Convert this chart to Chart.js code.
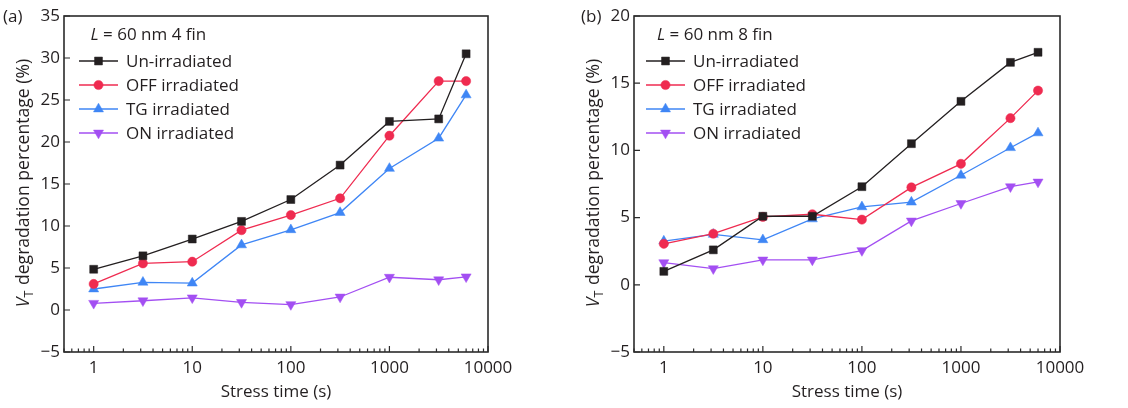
<!DOCTYPE html>
<html>
<head>
<meta charset="utf-8">
<script src="https://cdn.jsdelivr.net/npm/chart.js@4.4.1/dist/chart.umd.min.js"></script>
<style>
  html, body { margin: 0; padding: 0; background: #fff; }
  #wrap { position: relative; width: 1128px; height: 408px; }
  #wrap canvas { position: absolute; top: 0; }
</style>
</head>
<body>
<div id="wrap">
  <canvas id="chartA" width="564" height="408" style="left:0"></canvas>
  <canvas id="chartB" width="564" height="408" style="left:564px"></canvas>
</div>
<script>
// Stress times (s) shared by both devices
const stressTimes = [1, 3.16, 10, 31.6, 100, 316, 1000, 3160, 6000];
const seriesNames = ['Un-irradiated', 'OFF irradiated', 'TG irradiated', 'ON irradiated'];

// (a) L = 60 nm, 4 fin: VT degradation (%)
const fin4Un  = [4.85, 6.45, 8.45, 10.55, 13.15, 17.25, 22.45, 22.75, 30.5];
const fin4Off = [3.1, 5.55, 5.75, 9.5, 11.3, 13.3, 20.75, 27.25, 27.25];
const fin4Tg  = [2.5, 3.3, 3.2, 7.75, 9.55, 11.6, 16.85, 20.45, 25.6];
const fin4On  = [0.8, 1.1, 1.45, 0.9, 0.65, 1.55, 3.9, 3.6, 3.95];

// (b) L = 60 nm, 8 fin: VT degradation (%)
const fin8Un  = [1.0, 2.6, 5.1, 5.1, 7.3, 10.5, 13.65, 16.55, 17.3];
const fin8Off = [3.05, 3.8, 5.05, 5.25, 4.85, 7.25, 9.0, 12.4, 14.45];
const fin8Tg  = [3.25, 3.75, 3.35, 4.9, 5.8, 6.15, 8.15, 10.2, 11.3];
const fin8On  = [1.65, 1.2, 1.85, 1.85, 2.55, 4.75, 6.05, 7.3, 7.65];

// Axis ticks
const xMajorTicks = [1, 10, 100, 1000, 10000];
const xMinorTicks = [0.5, 0.6, 0.7, 0.8, 0.9,
  2, 3, 4, 5, 6, 7, 8, 9, 20, 30, 40, 50, 60, 70, 80, 90,
  200, 300, 400, 500, 600, 700, 800, 900, 2000, 3000, 4000, 5000, 6000, 7000, 8000, 9000];
const yTicksA = [-5, 0, 5, 10, 15, 20, 25, 30, 35];
const yTicksB = [-5, 0, 5, 10, 15, 20];

const FONT = '"Open Sans", "Noto Sans", sans-serif';
const INK = '#231f20';
const styles = [
  { color: '#231f20', pointStyle: 'rect', radius: 5.6, rotation: 0 },
  { color: '#ef2b50', pointStyle: 'circle', radius: 4.6, rotation: 0 },
  { color: '#3f86f5', pointStyle: 'triangle', radius: 5.8, rotation: 0 },
  { color: '#a34ff2', pointStyle: 'triangle', radius: 5.8, rotation: 180 }
];

function makeDatasets(seriesList) {
  return seriesList.map((vals, i) => ({
    label: seriesNames[i],
    data: stressTimes.map((t, k) => ({ x: t, y: vals[k] })),
    borderColor: styles[i].color,
    backgroundColor: styles[i].color,
    borderWidth: 1.3,
    pointStyle: styles[i].pointStyle,
    pointRadius: styles[i].radius,
    pointRotation: styles[i].rotation,
    pointBorderWidth: 0.5,
    pointBackgroundColor: styles[i].color,
    pointBorderColor: styles[i].color,
    tension: 0
  }));
}

function drawMarker(ctx, st, x, y) {
  ctx.save();
  ctx.fillStyle = st.color;
  ctx.strokeStyle = st.color;
  ctx.lineWidth = 0.5;
  if (Chart.helpers && Chart.helpers.drawPoint) {
    Chart.helpers.drawPoint(ctx, { pointStyle: st.pointStyle, radius: st.radius, rotation: st.rotation, borderWidth: 0.5 }, x, y);
  }
  ctx.restore();
}

// Frame, inward ticks, legend, annotation, panel tag and y title
const decorations = {
  id: 'decorations',
  afterDraw(chart, args, opts) {
    const ctx = chart.ctx;
    const area = chart.chartArea;
    const xs = chart.scales.x, ys = chart.scales.y;
    ctx.save();
    ctx.strokeStyle = '#2b2b2b';
    ctx.lineWidth = 1.6;
    ctx.strokeRect(area.left, area.top, area.right - area.left, area.bottom - area.top);

    // inward ticks
    ctx.lineWidth = 1.2;
    ctx.beginPath();
    xMajorTicks.forEach(v => {
      const px = xs.getPixelForValue(v);
      if (px < area.left - 0.5 || px > area.right + 0.5) return;
      ctx.moveTo(px, area.bottom); ctx.lineTo(px, area.bottom - 6);
    });
    xMinorTicks.forEach(v => {
      const px = xs.getPixelForValue(v);
      if (px < area.left - 0.5 || px > area.right + 0.5) return;
      ctx.moveTo(px, area.bottom); ctx.lineTo(px, area.bottom - 3.5);
    });
    opts.yTicks.forEach(v => {
      const py = ys.getPixelForValue(v);
      ctx.moveTo(area.left, py); ctx.lineTo(area.left + 6, py);
    });
    ctx.stroke();

    // panel tag
    ctx.fillStyle = INK;
    ctx.font = '17px ' + FONT;
    ctx.textAlign = 'left';
    ctx.textBaseline = 'alphabetic';
    ctx.fillText(opts.tag, opts.tagX, 22);

    // device annotation
    ctx.font = 'italic 17px ' + FONT;
    ctx.fillText('L', opts.noteX, 39.5);
    const lw = ctx.measureText('L').width;
    ctx.font = '17px ' + FONT;
    ctx.fillText(' = ' + opts.note, opts.noteX + lw, 39.5);

    // legend built from the datasets
    chart.data.datasets.forEach((ds, i) => {
      const st = styles[i];
      const y = 61 + i * 24;
      ctx.strokeStyle = st.color;
      ctx.lineWidth = 1.3;
      ctx.beginPath();
      ctx.moveTo(opts.legX0, y); ctx.lineTo(opts.legX0 + 39, y);
      ctx.stroke();
      drawMarker(ctx, st, opts.legX0 + 19.5, y);
      ctx.fillStyle = INK;
      ctx.font = '17px ' + FONT;
      ctx.fillText(ds.label, opts.legX0 + 47, y + 6);
    });

    // y title: V_T degradation percentage (%)
    ctx.save();
    ctx.translate(opts.yTitleX, 0);
    ctx.rotate(-Math.PI / 2);
    const fMain = '17.6px ' + FONT, fIt = 'italic 17.6px ' + FONT, fSub = '12.5px ' + FONT;
    const rest = ' degradation percentage (%)';
    ctx.font = fIt; const wV = ctx.measureText('V').width;
    ctx.font = fSub; const wT = ctx.measureText('T').width;
    ctx.font = fMain; const wR = ctx.measureText(rest).width;
    const total = wV + wT + 1 + wR;
    let sx = -183 - total / 2;
    ctx.fillStyle = INK;
    ctx.font = fIt; ctx.fillText('V', sx, 0); sx += wV;
    ctx.font = fSub; ctx.fillText('T', sx, 4); sx += wT + 1;
    ctx.font = fMain; ctx.fillText(rest, sx, 0);
    ctx.restore();

    ctx.restore();
  }
};

function makeChart(canvasId, seriesList, yMin, yMax, yTicks, box, deco) {
  return new Chart(document.getElementById(canvasId), {
    type: 'line',
    data: { datasets: makeDatasets(seriesList) },
    options: {
      responsive: false,
      animation: false,
      events: [],
      layout: { padding: { top: 16, right: box.padRight, left: 0, bottom: 0 } },
      plugins: {
        legend: { display: false },
        tooltip: { enabled: false },
        decorations: deco
      },
      scales: {
        x: {
          type: 'logarithmic',
          min: 0.5,
          max: 10000,
          afterBuildTicks: s => { s.ticks = xMajorTicks.map(v => ({ value: v, major: true })); },
          afterFit: s => { s.height = 56; },
          grid: { drawOnChartArea: false, drawTicks: false },
          border: { display: false },
          ticks: {
            autoSkip: false,
            maxRotation: 0,
            padding: 6,
            color: INK,
            font: { family: FONT, size: 17 },
            callback: v => String(v)
          },
          title: {
            display: true,
            text: 'Stress time (s)',
            color: INK,
            font: { family: FONT, size: 17 },
            padding: { top: 0, bottom: 6 }
          }
        },
        y: {
          min: yMin,
          max: yMax,
          afterBuildTicks: s => { s.ticks = yTicks.map(v => ({ value: v })); },
          afterFit: s => { s.width = box.yWidth; },
          grid: { drawOnChartArea: false, drawTicks: false },
          border: { display: false },
          ticks: {
            padding: 4,
            color: INK,
            font: { family: FONT, size: 17 },
            callback: v => (v < 0 ? '\u2212' + Math.abs(v) : String(v))
          }
        }
      }
    },
    plugins: [decorations]
  });
}

makeChart('chartA', [fin4Un, fin4Off, fin4Tg, fin4On], -5, 35, yTicksA,
  { padRight: 76, yWidth: 64 },
  { yTicks: yTicksA, tag: '(a)', tagX: 3, note: '60 nm 4 fin', noteX: 90.5, legX0: 79, yTitleX: 28.5 });

makeChart('chartB', [fin8Un, fin8Off, fin8Tg, fin8On], -5, 20, yTicksB,
  { padRight: 68, yWidth: 70 },
  { yTicks: yTicksB, tag: '(b)', tagX: 17, note: '60 nm 8 fin', noteX: 93, legX0: 82, yTitleX: 35 });
</script>
</body>
</html>
